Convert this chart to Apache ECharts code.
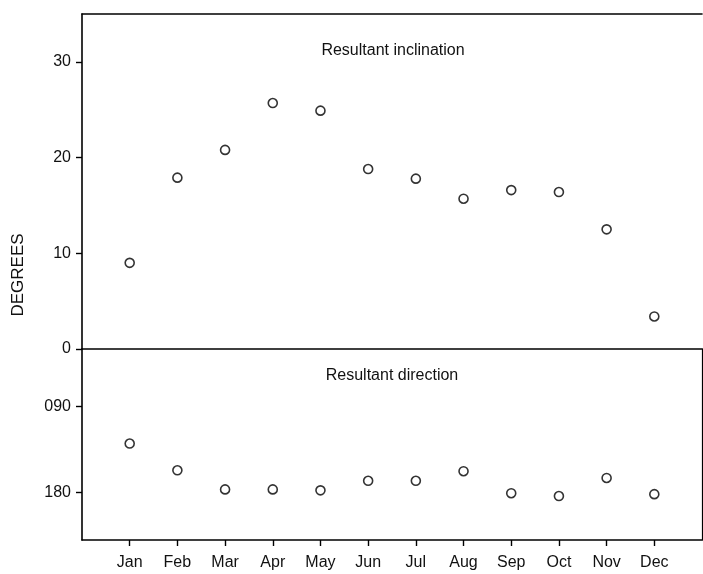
<!DOCTYPE html>
<html>
<head>
<meta charset="utf-8">
<script src="https://cdn.jsdelivr.net/npm/echarts@6/dist/echarts.min.js"></script>
<style>
html,body{margin:0;padding:0;background:#fff;}
#chart{width:703px;height:574px;}
</style>
</head>
<body>
<div id="chart"></div>
<script>
const months = ['Jan','Feb','Mar','Apr','May','Jun','Jul','Aug','Sep','Oct','Nov','Dec'];
const inclination = [9.0, 17.9, 20.8, 25.7, 24.9, 18.8, 17.8, 15.7, 16.6, 16.4, 12.5, 3.4];
const direction = [129, 157, 177, 177, 178, 168, 168, 158, 181, 184, 165, 182];
const inclTicks = [0, 10, 20, 30];
const dirTicks = [90, 180];
const monthPos = months.map((m, i) => i + 1);

const FONT = 'Liberation Sans, Arial, sans-serif';
const chart = echarts.init(document.getElementById('chart'));
const lineStyle = { color: '#000', width: 1.6 };

chart.setOption({
  backgroundColor: '#fff',
  animation: false,
  textStyle: { fontFamily: FONT, color: '#111' },
  grid: [
    { left: 82, right: 1, top: 14, height: 335, show: false },
    { left: 82, right: 1, top: 349, height: 191, show: false }
  ],
  xAxis: [
    { type: 'value', gridIndex: 0, min: 0, max: 13, position: 'bottom',
      axisLine: { show: true, onZero: false, lineStyle }, axisTick: { show: false }, axisLabel: { show: false }, splitLine: { show: false } },
    { type: 'value', gridIndex: 0, min: 0, max: 13, position: 'top',
      axisLine: { show: true, onZero: false, lineStyle }, axisTick: { show: false }, axisLabel: { show: false }, splitLine: { show: false } },
    { type: 'value', gridIndex: 1, min: 0, max: 13, position: 'bottom',
      axisLine: { show: true, onZero: false, lineStyle },
      axisTick: { show: true, length: 6, customValues: monthPos, lineStyle: { color: '#000', width: 1.4 } },
      axisLabel: { customValues: monthPos, formatter: v => months[v - 1] || '', margin: 15, fontSize: 16, color: '#111', fontFamily: FONT },
      splitLine: { show: false } }
  ],
  yAxis: [
    { type: 'value', gridIndex: 0, min: 0, max: 35,
      axisLine: { show: true, onZero: false, lineStyle },
      axisTick: { show: true, length: 6, customValues: inclTicks, lineStyle: { color: '#000', width: 1.4 } },
      axisLabel: { customValues: inclTicks, margin: 11, fontSize: 16, color: '#111', fontFamily: FONT },
      splitLine: { show: false } },
    { type: 'value', gridIndex: 1, min: 30, max: 230, inverse: true,
      axisLine: { show: true, onZero: false, lineStyle },
      axisTick: { show: true, length: 6, customValues: dirTicks, lineStyle: { color: '#000', width: 1.4 } },
      axisLabel: { customValues: dirTicks, margin: 11, fontSize: 16, color: '#111', fontFamily: FONT,
        formatter: v => String(v).padStart(3, '0') },
      splitLine: { show: false } },
    { type: 'value', gridIndex: 1, min: 30, max: 230, inverse: true, position: 'right',
      axisLine: { show: true, onZero: false, lineStyle: { color: '#000', width: 1.2 } },
      axisTick: { show: false }, axisLabel: { show: false }, splitLine: { show: false } }
  ],
  series: [
    { type: 'scatter', xAxisIndex: 0, yAxisIndex: 0, symbol: 'circle', symbolSize: 9,
      itemStyle: { color: '#fff', borderColor: '#000', borderWidth: 1.6 },
      data: inclination.map((v, i) => [monthPos[i], v]) },
    { type: 'scatter', xAxisIndex: 2, yAxisIndex: 1, symbol: 'circle', symbolSize: 9,
      itemStyle: { color: '#fff', borderColor: '#000', borderWidth: 1.6 },
      data: direction.map((v, i) => [monthPos[i], v]) }
  ],
  graphic: [
    { type: 'text', x: 393, y: 51, style: { text: 'Resultant inclination', font: '16px ' + FONT, fill: '#111', textAlign: 'center', textVerticalAlign: 'middle' } },
    { type: 'text', x: 392, y: 376, style: { text: 'Resultant direction', font: '16px ' + FONT, fill: '#111', textAlign: 'center', textVerticalAlign: 'middle' } },
    { type: 'text', x: 18, y: 275, rotation: Math.PI / 2, style: { text: 'DEGREES', font: '17px ' + FONT, fill: '#111', textAlign: 'center', textVerticalAlign: 'middle' } }
  ]
});
</script>
</body>
</html>
